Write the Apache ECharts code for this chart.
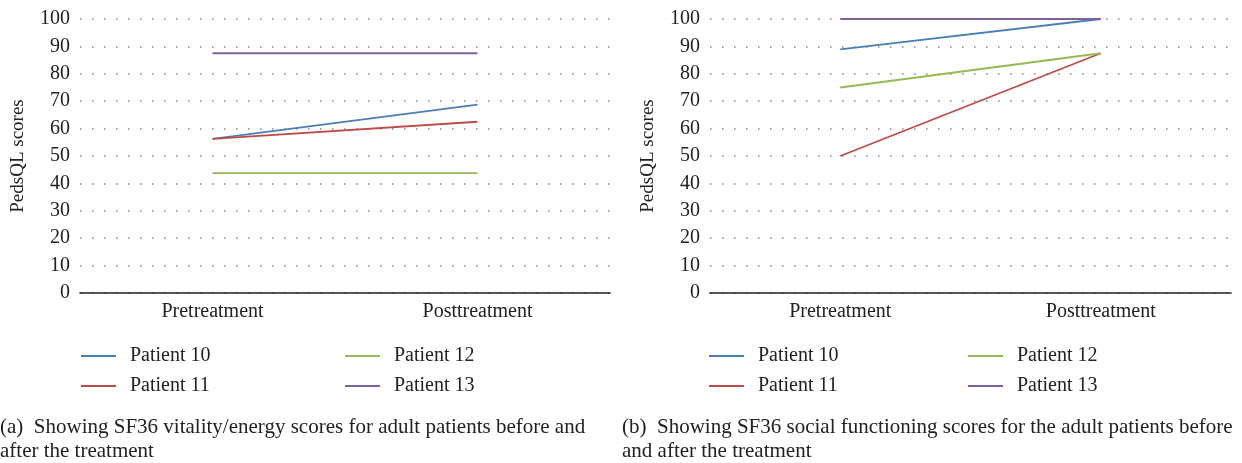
<!DOCTYPE html>
<html>
<head>
<meta charset="utf-8">
<script src="https://cdn.jsdelivr.net/npm/echarts@6/dist/echarts.min.js"></script>
<style>
html,body{margin:0;padding:0;background:#fff;}
#c{width:1242px;height:463px;}
</style>
</head>
<body>
<div id="c"></div>
<script>
// ---- data ----
const categories = ['Pretreatment', 'Posttreatment'];
const patientNames = ['Patient 10', 'Patient 11', 'Patient 12', 'Patient 13'];
const yTicks = [0, 10, 20, 30, 40, 50, 60, 70, 80, 90, 100];

// (a) SF36 vitality/energy
const vitality10 = [56.25, 68.75];
const vitality11 = [56.25, 62.5];
const vitality12 = [43.75, 43.75];
const vitality13 = [87.5, 87.5];

// (b) SF36 social functioning
const social10 = [88.9, 100];
const social11 = [50, 87.5];
const social12 = [75, 87.5];
const social13 = [100, 100];

const captionA = ['(a)  Showing SF36 vitality/energy scores for adult patients before and', 'after the treatment'];
const captionB = ['(b)  Showing SF36 social functioning scores for the adult patients before', 'and after the treatment'];

const colors = ['#4a7ebb', '#be4b48', '#98b954', '#7d60a0'];
const FONT = '"Liberation Serif", "DejaVu Serif", serif';

const chart = echarts.init(document.getElementById('c'), null, {renderer: 'canvas'});

function xAxis(gi) {
  return {
    type: 'category', gridIndex: gi, data: categories, boundaryGap: true,
    axisLine: {lineStyle: {color: '#222', width: 1.6}},
    axisTick: {show: false},
    axisLabel: {color: '#222', fontFamily: FONT, fontSize: 20, margin: 9},
    splitLine: {show: false}
  };
}
function yAxis(gi) {
  return {
    type: 'value', gridIndex: gi, min: yTicks[0], max: yTicks[yTicks.length - 1], interval: 10,
    name: 'PedsQL scores', nameLocation: 'middle', nameGap: 52,
    nameTextStyle: {color: '#222', fontFamily: FONT, fontSize: 19},
    axisLine: {show: false}, axisTick: {show: false},
    axisLabel: {color: '#222', fontFamily: FONT, fontSize: 20, margin: 10},
    splitLine: {show: true, lineStyle: {color: '#888', width: 1.5, type: [1.5, 10.5]}}
  };
}
const seriesData = [
  [vitality10, vitality11, vitality12, vitality13],
  [social10, social11, social12, social13]
];
const series = [];
seriesData.forEach((set, gi) => {
  set.forEach((d, i) => {
    series.push({
      type: 'line', name: patientNames[i], xAxisIndex: gi, yAxisIndex: gi,
      data: d, symbol: 'none', silent: true,
      lineStyle: {color: colors[i], width: 1.8},
      itemStyle: {color: colors[i]}
    });
  });
});

function legend(left, names) {
  return {
    orient: 'vertical', left: left, top: 341, itemGap: 10,
    itemWidth: 35, itemHeight: 2, icon: 'rect',
    data: names, selectedMode: false,
    textStyle: {color: '#222', fontFamily: FONT, fontSize: 20, padding: [0, 0, 0, 9]}
  };
}

function caption(x, lines) {
  return lines.map((t, k) => ({
    type: 'text', left: x, top: 417 + k * 24,
    style: {text: t, font: '21px ' + FONT, fill: '#222'}
  }));
}

chart.setOption({
  animation: false,
  color: colors,
  grid: [
    {left: 80, right: 632, top: 19, bottom: 170},
    {left: 710, right: 11, top: 19, bottom: 170}
  ],
  xAxis: [xAxis(0), xAxis(1)],
  yAxis: [yAxis(0), yAxis(1)],
  legend: [
    legend(76, [patientNames[0], patientNames[1]]),
    legend(340, [patientNames[2], patientNames[3]]),
    legend(704, [patientNames[0], patientNames[1]]),
    legend(963, [patientNames[2], patientNames[3]])
  ],
  series: series,
  graphic: caption(0, captionA).concat(caption(622, captionB))
});
</script>
</body>
</html>
